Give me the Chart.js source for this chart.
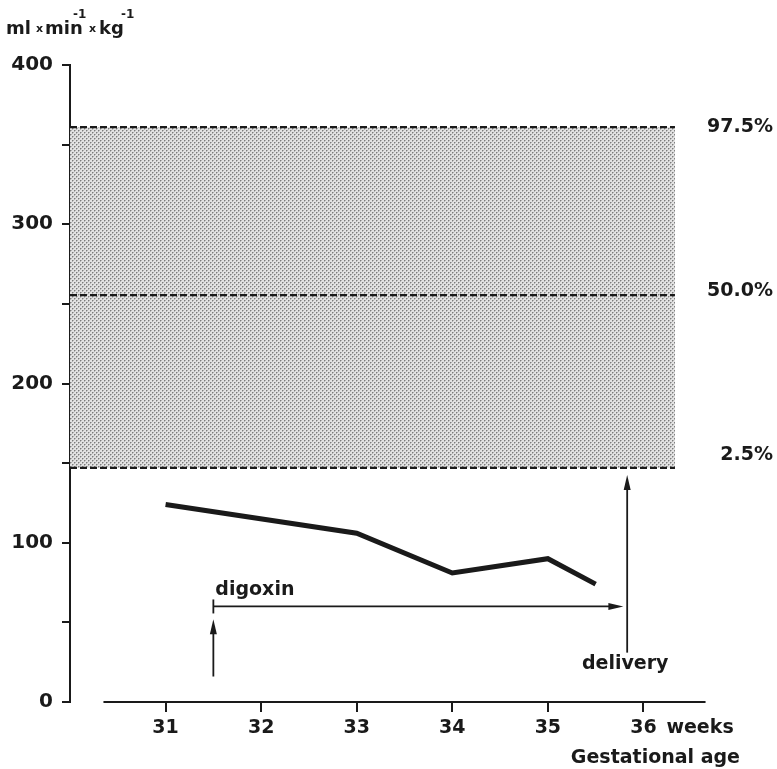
<!DOCTYPE html>
<html>
<head>
<meta charset="utf-8">
<script src="https://cdn.jsdelivr.net/npm/chart.js@4.4.0/dist/chart.umd.min.js"></script>
<style>
  body { margin: 0; background: #fff; }
  #wrap { width: 777px; height: 769px; position: relative; }
</style>
</head>
<body>
<div id="wrap"><canvas id="chart"></canvas></div>
<script>
// values
const weeks = [31, 33, 34, 35, 35.5];
const flow = [124, 106, 81, 90, 74];
const xTicks = [31, 32, 33, 34, 35, 36];

// reference range (percentiles), drawn across the whole band
const bandX = [30, 36.33];
const percentiles = [361, 255.5, 147];
const percentileLabels = ["97.5%", "50.0%", "2.5%"];
const percentileLabelY = [361, 258, 155];

// x axis line does not reach the y axis
const xAxisSpan = [30.35, 36.65];

// digoxin period and delivery
const digoxinStart = 31.5, digoxinEnd = 35.79, digoxinLevel = 60;
const digoxinArrowY = [16, 52];
const digoxinLabelY = 70;
const deliveryWeek = 35.83;
const deliveryArrowY = [31, 142.5];
const deliveryLabelY = 24;

const ink = "#1a1a1a";
const FONT = "'DejaVu Sans', sans-serif";

// grey halftone like the printed band
function stipple() {
  const c = document.createElement("canvas");
  c.width = 4; c.height = 4;
  const g = c.getContext("2d");
  g.fillStyle = "#e2e2e2"; g.fillRect(0, 0, 4, 4);
  g.fillStyle = "#b2b2b2";
  g.fillRect(1, 0, 1, 1); g.fillRect(0, 1, 1, 1);
  g.fillRect(3, 2, 1, 1); g.fillRect(2, 3, 1, 1);
  g.fillStyle = "#7c7c7c";
  g.fillRect(0, 0, 1, 1); g.fillRect(2, 2, 1, 1);
  return g.createPattern(c, "repeat");
}

function arrowHead(ctx, tx, ty, dx, dy, len, half) {
  const bx = tx - dx * len, by = ty - dy * len;
  ctx.beginPath();
  ctx.moveTo(tx, ty);
  ctx.lineTo(bx - dy * half, by + dx * half);
  ctx.lineTo(bx + dy * half, by - dx * half);
  ctx.closePath();
  ctx.fill();
}

function seg(ctx, x1, y1, x2, y2) {
  ctx.beginPath();
  ctx.moveTo(x1, y1);
  ctx.lineTo(x2, y2);
  ctx.stroke();
}

const annotations = {
  id: "annotations",
  afterDatasetsDraw(chart) {
    const { ctx, scales: { x, y } } = chart;
    ctx.save();
    ctx.strokeStyle = ink;
    ctx.fillStyle = ink;

    // x axis line
    ctx.lineWidth = 2;
    const y0 = y.getPixelForValue(0);
    seg(ctx, x.getPixelForValue(xAxisSpan[0]), y0, x.getPixelForValue(xAxisSpan[1]), y0);

    // digoxin period arrow
    ctx.lineWidth = 1.8;
    const dx1 = x.getPixelForValue(digoxinStart), dx2 = x.getPixelForValue(digoxinEnd);
    const dy = y.getPixelForValue(digoxinLevel);
    seg(ctx, dx1, dy, dx2 - 10, dy);
    seg(ctx, dx1, dy - 7, dx1, dy + 7);
    arrowHead(ctx, dx2, dy, 1, 0, 15, 3.5);

    // start of digoxin (up arrow)
    const ua = y.getPixelForValue(digoxinArrowY[0]), ub = y.getPixelForValue(digoxinArrowY[1]);
    seg(ctx, dx1, ua, dx1, ub + 10);
    arrowHead(ctx, dx1, ub, 0, -1, 15, 3.5);

    // delivery arrow
    const dv = x.getPixelForValue(deliveryWeek);
    const da = y.getPixelForValue(deliveryArrowY[0]), db = y.getPixelForValue(deliveryArrowY[1]);
    seg(ctx, dv, da, dv, db + 10);
    arrowHead(ctx, dv, db, 0, -1, 15, 3.5);

    // texts
    ctx.font = "bold 19px " + FONT;
    ctx.textBaseline = "middle";
    ctx.textAlign = "left";
    ctx.fillText("digoxin", dx1 + 2, y.getPixelForValue(digoxinLabelY));
    ctx.textAlign = "center";
    ctx.fillText("delivery", dv - 2, y.getPixelForValue(deliveryLabelY));

    ctx.textAlign = "right";
    percentileLabels.forEach((t, i) => {
      ctx.fillText(t, chart.width - 4, y.getPixelForValue(percentileLabelY[i]));
    });

    // x title
    const tickY = y0 + 26;
    ctx.textAlign = "left";
    ctx.fillText("weeks", x.getPixelForValue(36) + 23, tickY);
    ctx.textAlign = "right";
    ctx.fillText("Gestational age", 740, tickY + 30);

    // y unit: ml x min-1 x kg-1
    ctx.textAlign = "left";
    ctx.textBaseline = "alphabetic";
    const big = "bold 18px " + FONT, small = "bold 11px " + FONT, sup = "bold 12px " + FONT;
    ctx.font = big; ctx.fillText("ml", 6, 34);
    ctx.font = small; ctx.fillText("x", 36, 32);
    ctx.font = big; ctx.fillText("min", 45, 34);
    ctx.font = sup; ctx.fillText("-1", 73, 18);
    ctx.font = small; ctx.fillText("x", 89, 32);
    ctx.font = big; ctx.fillText("kg", 99, 34);
    ctx.font = sup; ctx.fillText("-1", 121, 18);

    ctx.restore();
  }
};

const pattern = stipple();
const lineAt = v => bandX.map(b => ({ x: b, y: v }));

new Chart(document.getElementById("chart").getContext("2d"), {
  type: "line",
  data: {
    datasets: [
      {
        data: weeks.map((w, i) => ({ x: w, y: flow[i] })),
        borderColor: ink, borderWidth: 5, pointRadius: 0, fill: false,
        borderCapStyle: "butt", borderJoinStyle: "miter"
      },
      {
        data: lineAt(percentiles[0]), borderColor: ink, borderWidth: 2.2,
        borderDash: [7, 3], pointRadius: 0, fill: 3, backgroundColor: pattern
      },
      {
        data: lineAt(percentiles[1]), borderColor: ink, borderWidth: 2.2,
        borderDash: [7, 3], pointRadius: 0, fill: false
      },
      {
        data: lineAt(percentiles[2]), borderColor: ink, borderWidth: 2.2,
        borderDash: [7, 3], pointRadius: 0, fill: false
      }
    ]
  },
  options: {
    responsive: true,
    maintainAspectRatio: false,
    animation: false,
    layout: { padding: { top: 65, right: 38, left: 0, bottom: 0 } },
    plugins: {
      legend: { display: false },
      tooltip: { enabled: false },
      filler: { drawTime: "beforeDatasetsDraw" }
    },
    scales: {
      x: {
        type: "linear", min: 30, max: 37,
        afterBuildTicks: ax => { ax.ticks = xTicks.map(v => ({ value: v })); },
        afterFit: s => { s.height = 67; },
        border: { display: false },
        grid: { drawOnChartArea: false, tickLength: 10, color: ink, lineWidth: 2 },
        ticks: { color: ink, font: { family: FONT, size: 19, weight: "bold" }, padding: 5, maxRotation: 0 }
      },
      y: {
        min: 0, max: 400,
        afterFit: s => { s.width = 70; },
        border: { color: ink, width: 2 },
        grid: { drawOnChartArea: false, tickLength: 8, color: ink, lineWidth: 2 },
        ticks: {
          stepSize: 50, color: ink, padding: 9,
          font: { family: FONT, size: 20, weight: "bold" },
          callback: v => (v % 100 === 0 ? v : "")
        }
      }
    }
  },
  plugins: [annotations]
});
</script>
</body>
</html>
